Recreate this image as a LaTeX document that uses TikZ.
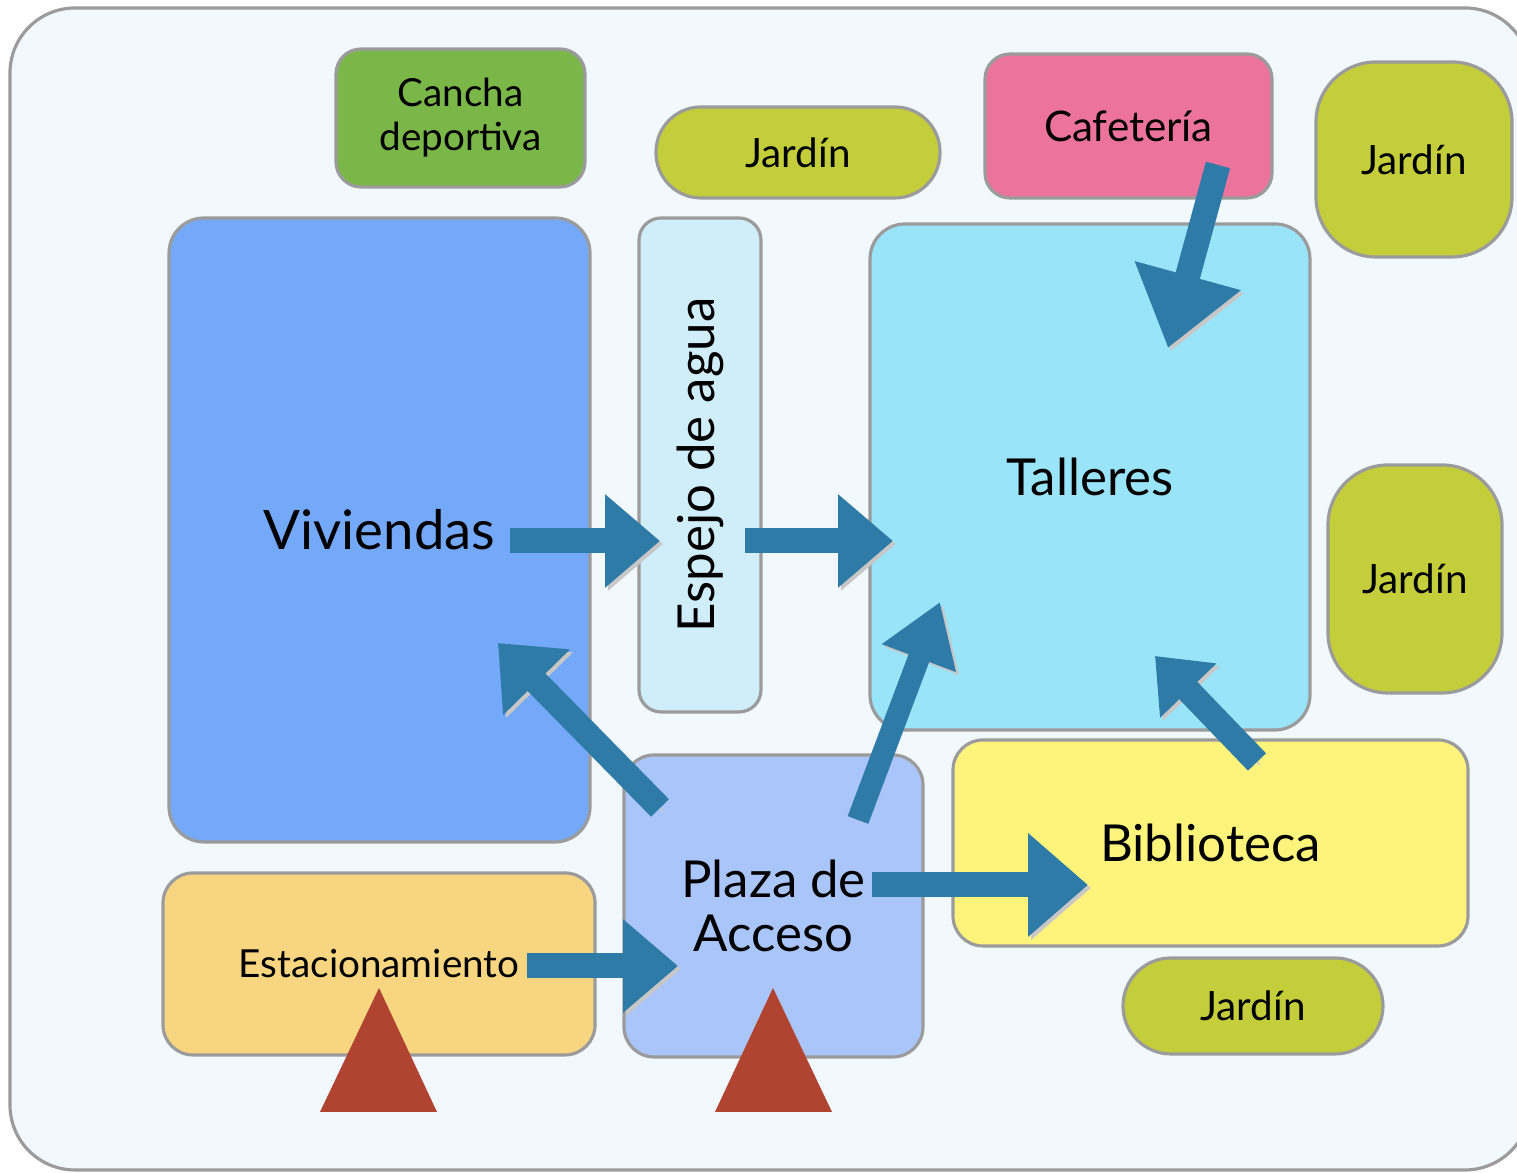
\documentclass[tikz,border=0pt]{standalone}
\usepackage{fontspec}
\setmainfont{Lato}
\usetikzlibrary{arrows.meta}
\definecolor{planbg}{RGB}{241,248,254}
\definecolor{planline}{RGB}{155,155,155}
\definecolor{plangreen}{RGB}{122,182,72}
\definecolor{planlawn}{RGB}{195,206,58}
\definecolor{planpink}{RGB}{235,115,156}
\definecolor{planblue}{RGB}{116,168,248}
\definecolor{planwater}{RGB}{207,238,250}
\definecolor{plancyan}{RGB}{154,228,250}
\definecolor{planyellow}{RGB}{254,244,123}
\definecolor{planplaza}{RGB}{169,197,249}
\definecolor{planorange}{RGB}{248,214,129}
\definecolor{planarrow}{RGB}{46,123,167}
\definecolor{planred}{RGB}{176,68,49}

\begin{document}
\begin{tikzpicture}[
  area/.style={draw=planline,line width=.9pt,rounded corners=.35cm,align=center,
    inner sep=0pt,font=\fontsize{14.5}{15.6}\selectfont},
  small/.style={area,rounded corners=.25cm,font=\fontsize{11}{12.5}\selectfont},
  lawn/.style={small,fill=planlawn,font=\fontsize{11.5}{13}\selectfont},
  frame/.style={draw=planline,line width=.9pt,fill=planbg,rounded corners=.65cm},
  arr/.style={draw=planarrow,line width=.25cm,-{Triangle[length=.55cm,width=.9cm]},
    preaction={draw=black!22,transform canvas={shift={(.03,-.03)}}}},
  entry/.style={fill=planred}
]
\useasboundingbox (0,0) rectangle (15.17,11.73);
\draw[frame] (.10,11.65) rectangle (15.30,.03);

% zones
\node[small,fill=plangreen,minimum width=2.49cm,minimum height=1.38cm] (cancha) at (4.605,10.55) {Cancha\\deportiva};
\node[lawn,rounded corners=.45cm,minimum width=2.84cm,minimum height=.91cm] (jardinA) at (7.98,10.205) {Jardín};
\node[small,fill=planpink,minimum width=2.87cm,minimum height=1.44cm,font=\fontsize{12}{13}\selectfont] (cafe) at (11.285,10.47) {Cafetería};
\node[lawn,rounded corners=.6cm,minimum width=1.96cm,minimum height=1.95cm] (jardinB) at (14.14,10.135) {Jardín};
\node[area,fill=planblue,minimum width=4.21cm,minimum height=6.24cm] (viv) at (3.795,6.43) {\fontsize{15.5}{16}\selectfont Viviendas};
\node[area,fill=planwater,rounded corners=.22cm,rotate=90,minimum width=4.94cm,minimum height=1.22cm] (espejo) at (7.00,7.08) {Espejo de agua};
\node[area,fill=plancyan,minimum width=4.40cm,minimum height=5.06cm] (talleres) at (10.90,6.96) {Talleres};
\node[lawn,rounded corners=.6cm,minimum width=1.74cm,minimum height=2.28cm] (jardinC) at (14.15,5.94) {Jardín};
\node[area,fill=planyellow,rounded corners=.3cm,minimum width=5.15cm,minimum height=2.06cm] (biblio) at (12.105,3.30) {Biblioteca};
\node[lawn,rounded corners=.48cm,minimum width=2.60cm,minimum height=.96cm] (jardinD) at (12.53,1.67) {Jardín};
\node[area,fill=planplaza,rounded corners=.3cm,minimum width=2.99cm,minimum height=3.02cm] (plaza) at (7.735,2.67) {Plaza de\\Acceso};
\node[small,fill=planorange,rounded corners=.3cm,minimum width=4.32cm,minimum height=1.82cm] (estac) at (3.79,2.09) {Estacionamiento};

% flow ends
\coordinate (vivOut) at (5.10,6.32);
\coordinate (espIn) at (6.60,6.32);
\coordinate (espOut) at (7.45,6.32);
\coordinate (talIn) at (8.93,6.32);
\coordinate (cafeOut) at (12.18,10.08);
\coordinate (talTop) at (11.68,8.25);
\coordinate (plazaUL) at (6.60,3.65);
\coordinate (vivIn) at (4.98,5.30);
\coordinate (plazaUR) at (8.58,3.53);
\coordinate (talLow) at (9.40,5.71);
\coordinate (biblioOut) at (12.57,4.11);
\coordinate (talRight) at (11.55,5.17);
\coordinate (plazaOut) at (8.72,2.88);
\coordinate (biblioIn) at (10.88,2.88);
\coordinate (estacOut) at (5.27,2.07);
\coordinate (plazaIn) at (6.78,2.07);

\draw[arr] (vivOut) -- (espIn);
\draw[arr] (espOut) -- (talIn);
\draw[arr,-{Triangle[length=.75cm,width=1.05cm]}] (cafeOut) -- (talTop);
\draw[arr] (plazaUL) -- (vivIn);
\draw[arr,line width=.22cm,-{Triangle[length=.6cm,width=.75cm]}] (plazaUR) -- (talLow);
\draw[arr,-{Triangle[length=.48cm,width=.75cm]}] (biblioOut) -- (talRight);
\draw[arr,-{Triangle[length=.6cm,width=1.0cm]}] (plazaOut) -- (biblioIn);
\draw[arr] (estacOut) -- (plazaIn);

% entrances
\fill[entry] (3.79,1.85) -- (3.20,.61) -- (4.37,.61) -- cycle;
\fill[entry] (7.73,1.85) -- (7.15,.61) -- (8.32,.61) -- cycle;
\end{tikzpicture}
\end{document}
